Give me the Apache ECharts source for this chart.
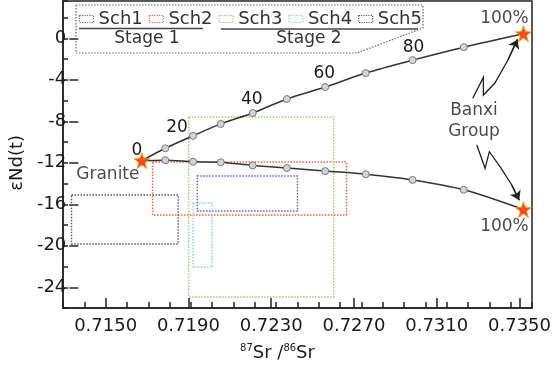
<!DOCTYPE html>
<html>
<head>
<meta charset="utf-8">
<script src="https://cdn.jsdelivr.net/npm/echarts@6/dist/echarts.min.js"></script>
<style>
  html, body { margin: 0; padding: 0; background: #fff; }
  #main { width: 554px; height: 367px; }
</style>
</head>
<body>
<div id="main"></div>
<script>
// mixing curves, Granite (0%) -> Banxi Group (100%), 10% steps
var mixX = [0.7167, 0.7178, 0.7191, 0.7204, 0.7219, 0.7235, 0.7253, 0.7272, 0.7294, 0.7318, 0.7346];
var upperY = [-11.8, -10.6, -9.4, -8.25, -7.2, -5.85, -4.7, -3.35, -2.1, -0.85, 0.45];
var lowerY = [-11.8, -11.75, -11.9, -11.95, -12.25, -12.5, -12.8, -13.1, -13.65, -14.6, -16.5];
var upperLabels = ['0', '', '20', '', '40', '', '60', '', '80', '', ''];
var endLabels = ['Granite', '100%', '100%'];

// sample fields (Sr ratio range, eNd range)
var schemes = ['Sch1', 'Sch2', 'Sch3', 'Sch4', 'Sch5'];
var schX = [[0.7193, 0.7240], [0.7172, 0.7263], [0.7189, 0.7257], [0.7191, 0.7200], [0.7134, 0.7184]];
var schY = [[-13.28, -16.65], [-11.93, -17.04], [-7.59, -24.94], [-15.88, -22.05], [-15.1, -19.83]];
var schColors = ['#6a5acd', '#f0673f', '#93d26c', '#8ccbf2', '#555555'];

// annotation arrows and text
var arrowUpper = [[0.73222, -5.78], [0.73272, -3.76], [0.73272, -5.47], [0.73326, -4.31], [0.73387, -2.09], [0.73432, -0.1]];
var arrowLower = [[0.73241, -10.29], [0.73280, -12.53], [0.73300, -10.93], [0.73350, -12.38], [0.73405, -14.14], [0.73440, -15.6]];
var banxiPos = [0.73228, -7.97];

var xTicks = { min: 0.713, max: 0.735, minor: 0.001, majorFrom: 0.715, major: 0.004 };
var yTicks = { min: -26, max: 3.6, minor: 2, majorFrom: -24, majorTo: 0, major: 4 };

var FONT = 'DejaVu Sans';
var L = 63, T = 1, R = 532, B = 308;
function xpos(v) { return L + (v - xTicks.min) / (xTicks.max - xTicks.min) * (R - L); }
function ypos(v) { return T + (yTicks.max - v) / (yTicks.max - yTicks.min) * (B - T); }

var chart = echarts.init(document.getElementById('main'), null, { renderer: 'canvas' });

var labelOffsets = { 0: [-5, -10], 2: [-16, -8], 4: [-1, -13], 6: [-1, -14], 8: [1, -13] };
var endOffsets = [[-34, 14], [-19, -15], [-19, 17]];
var textColor = '#1a1a1a';

function curveData(ys, labels) {
  return mixX.map(function (x, i) {
    var item = { value: [x, ys[i]] };
    if (labels && labels[i]) {
      item.label = { show: true, position: 'inside', offset: labelOffsets[i], formatter: labels[i] };
    }
    return item;
  });
}

var series = [];
schemes.forEach(function (name, k) {
  series.push({
    name: name,
    type: 'custom',
    xAxisIndex: 0,
    yAxisIndex: 0,
    z: 2,
    renderItem: function (params, api) {
      var p0 = api.coord([api.value(0), api.value(1)]);
      var p1 = api.coord([api.value(2), api.value(3)]);
      return {
        type: 'rect',
        shape: { x: Math.min(p0[0], p1[0]), y: Math.min(p0[1], p1[1]), width: Math.abs(p1[0] - p0[0]), height: Math.abs(p1[1] - p0[1]) },
        style: { fill: 'none', stroke: schColors[k], lineWidth: 1.4, lineDash: [1.5, 1.5] }
      };
    },
    data: [[schX[k][0], schY[k][0], schX[k][1], schY[k][1]]]
  });
});

var curveStyle = {
  type: 'line',
  xAxisIndex: 0,
  yAxisIndex: 0,
  z: 5,
  smooth: 0.3,
  symbol: 'circle',
  symbolSize: 7,
  itemStyle: { color: '#d4d4d4', borderColor: '#7a7a7a', borderWidth: 1 },
  lineStyle: { color: '#333', width: 1.5 },
  label: { color: textColor, fontFamily: FONT, fontSize: 17, textBorderWidth: 0 },
  emphasis: { disabled: true }
};
series.push(Object.assign({}, curveStyle, { name: 'upper', data: curveData(upperY, upperLabels) }));
series.push(Object.assign({}, curveStyle, { name: 'lower', data: curveData(lowerY, null) }));

var last = mixX.length - 1;
var ends = [[mixX[0], upperY[0]], [mixX[last], upperY[last]], [mixX[last], lowerY[last]]];
series.push({
  name: 'ends',
  type: 'scatter',
  xAxisIndex: 0,
  yAxisIndex: 0,
  z: 8,
  symbol: 'path://M0,-10 L2.245,-3.09 L9.51,-3.09 L3.633,1.18 L5.88,8.09 L0,3.82 L-5.88,8.09 L-3.633,1.18 L-9.51,-3.09 L-2.245,-3.09 Z',
  symbolSize: 16,
  itemStyle: { color: '#ff2a00', borderColor: '#ff9c00', borderWidth: 1 },
  emphasis: { disabled: true },
  data: ends.map(function (p, i) {
    return {
      value: p,
      label: { show: true, position: 'inside', offset: endOffsets[i], formatter: endLabels[i], color: textColor, fontFamily: FONT, fontSize: 17, textBorderWidth: 0 }
    };
  })
});

// arrow bodies (polyline) and heads (last segment)
series.push({
  name: 'arrowBody',
  type: 'lines',
  coordinateSystem: 'cartesian2d',
  xAxisIndex: 0,
  yAxisIndex: 0,
  polyline: true,
  z: 6,
  lineStyle: { color: '#222', width: 1.3, opacity: 1 },
  data: [{ coords: arrowUpper }, { coords: arrowLower }]
});
series.push({
  name: 'arrowHead',
  type: 'lines',
  coordinateSystem: 'cartesian2d',
  xAxisIndex: 0,
  yAxisIndex: 0,
  z: 6,
  symbol: ['none', 'arrow'],
  symbolSize: 9,
  lineStyle: { color: '#222', width: 1.3, opacity: 1, curveness: 0 },
  data: [
    { coords: arrowUpper.slice(-2) },
    { coords: arrowLower.slice(-2) }
  ]
});

series.push({
  name: 'banxi',
  type: 'scatter',
  xAxisIndex: 0,
  yAxisIndex: 0,
  symbolSize: 0,
  silent: true,
  label: { show: true, position: 'inside', formatter: 'Banxi\nGroup', color: textColor, fontFamily: FONT, fontSize: 17, lineHeight: 21, align: 'center', textBorderWidth: 0 },
  data: [banxiPos]
});

var axisLineStyle = { color: '#222', width: 1.5 };

var option = {
  animation: false,
  backgroundColor: '#fff',
  textStyle: { fontFamily: FONT },
  grid: [
    { left: L, top: T, width: R - L, height: B - T, show: true, borderColor: '#222', borderWidth: 1.5, backgroundColor: 'transparent' },
    { left: xpos(xTicks.majorFrom), top: T, width: R - xpos(xTicks.majorFrom), height: B - T },
    { left: L, top: ypos(yTicks.majorTo), width: R - L, height: ypos(yTicks.majorFrom) - ypos(yTicks.majorTo) }
  ],
  xAxis: [
    {
      gridIndex: 0, type: 'value', min: xTicks.min, max: xTicks.max, interval: xTicks.minor,
      axisLine: { onZero: false, lineStyle: axisLineStyle },
      axisTick: { inside: true, length: 6, lineStyle: axisLineStyle },
      axisLabel: { show: false },
      splitLine: { show: false },
      name: '{sup|87}{b|Sr /}{sup|86}{b|Sr}',
      nameLocation: 'middle',
      nameGap: 35,
      nameTextStyle: {
        padding: [0, 40, 0, 0],
        rich: {
          sup: { fontFamily: FONT, fontSize: 10, color: textColor, verticalAlign: 'top', lineHeight: 20 },
          b: { fontFamily: FONT, fontSize: 18, color: textColor, lineHeight: 20 }
        }
      }
    },
    {
      gridIndex: 1, type: 'value', min: xTicks.majorFrom, max: xTicks.max, interval: xTicks.major,
      axisLine: { show: false, onZero: false },
      axisTick: { inside: true, length: 10, lineStyle: axisLineStyle },
      axisLabel: { fontFamily: FONT, fontSize: 18, color: textColor, margin: 9, formatter: function (v) { return v.toFixed(4); } },
      splitLine: { show: false }
    },
    { gridIndex: 2, type: 'value', min: xTicks.min, max: xTicks.max, show: false, axisLine: { onZero: false } }
  ],
  yAxis: [
    {
      gridIndex: 0, type: 'value', min: yTicks.min, max: yTicks.max, interval: yTicks.minor,
      axisLine: { onZero: false, lineStyle: axisLineStyle },
      axisTick: { inside: true, length: 5, lineStyle: axisLineStyle },
      axisLabel: { show: false },
      splitLine: { show: false }
    },
    { gridIndex: 1, type: 'value', min: yTicks.min, max: yTicks.max, show: false, axisLine: { onZero: false } },
    {
      gridIndex: 2, type: 'value', min: yTicks.majorFrom, max: yTicks.majorTo, interval: yTicks.major,
      axisLine: { show: false, onZero: false },
      axisTick: { inside: true, length: 9, lineStyle: axisLineStyle },
      axisLabel: { fontFamily: FONT, fontSize: 18, color: textColor, margin: 3 },
      splitLine: { show: false },
      name: 'εNd(t)',
      nameLocation: 'middle',
      nameRotate: 90,
      nameGap: 40,
      nameTextStyle: { fontFamily: FONT, fontSize: 18, color: textColor, padding: [0, 0, 0, 0] }
    }
  ],
  legend: {
    left: 79,
    top: 10,
    padding: 0,
    itemGap: 6,
    itemWidth: 14,
    itemHeight: 7,
    selectedMode: false,
    textStyle: { fontFamily: FONT, fontSize: 18, color: '#333' },
    data: schemes.map(function (name, k) {
      return { name: name, icon: 'rect', itemStyle: { color: '#fff', borderColor: schColors[k], borderWidth: 1.2, borderType: 'dotted' } };
    })
  },
  graphic: [
    {
      type: 'polyline', z: 1, silent: true,
      shape: { points: [[76, 5], [423, 5], [423, 28], [357, 53], [76, 53], [76, 5]] },
      style: { fill: 'none', stroke: '#666', lineWidth: 1.2, lineDash: [1.5, 1.5] }
    },
    { type: 'line', silent: true, shape: { x1: 79, y1: 28.5, x2: 203, y2: 28.5 }, style: { stroke: '#444', lineWidth: 1.5 } },
    { type: 'line', silent: true, shape: { x1: 221, y1: 29, x2: 418, y2: 29 }, style: { stroke: '#444', lineWidth: 1.5 } },
    { type: 'text', silent: true, x: 147, y: 38.5, style: { text: 'Stage 1', font: '17px "DejaVu Sans"', fill: '#333', align: 'center', verticalAlign: 'middle' } },
    { type: 'text', silent: true, x: 309, y: 39, style: { text: 'Stage 2', font: '17px "DejaVu Sans"', fill: '#333', align: 'center', verticalAlign: 'middle' } }
  ],
  series: series
};

chart.setOption(option);
</script>
</body>
</html>
